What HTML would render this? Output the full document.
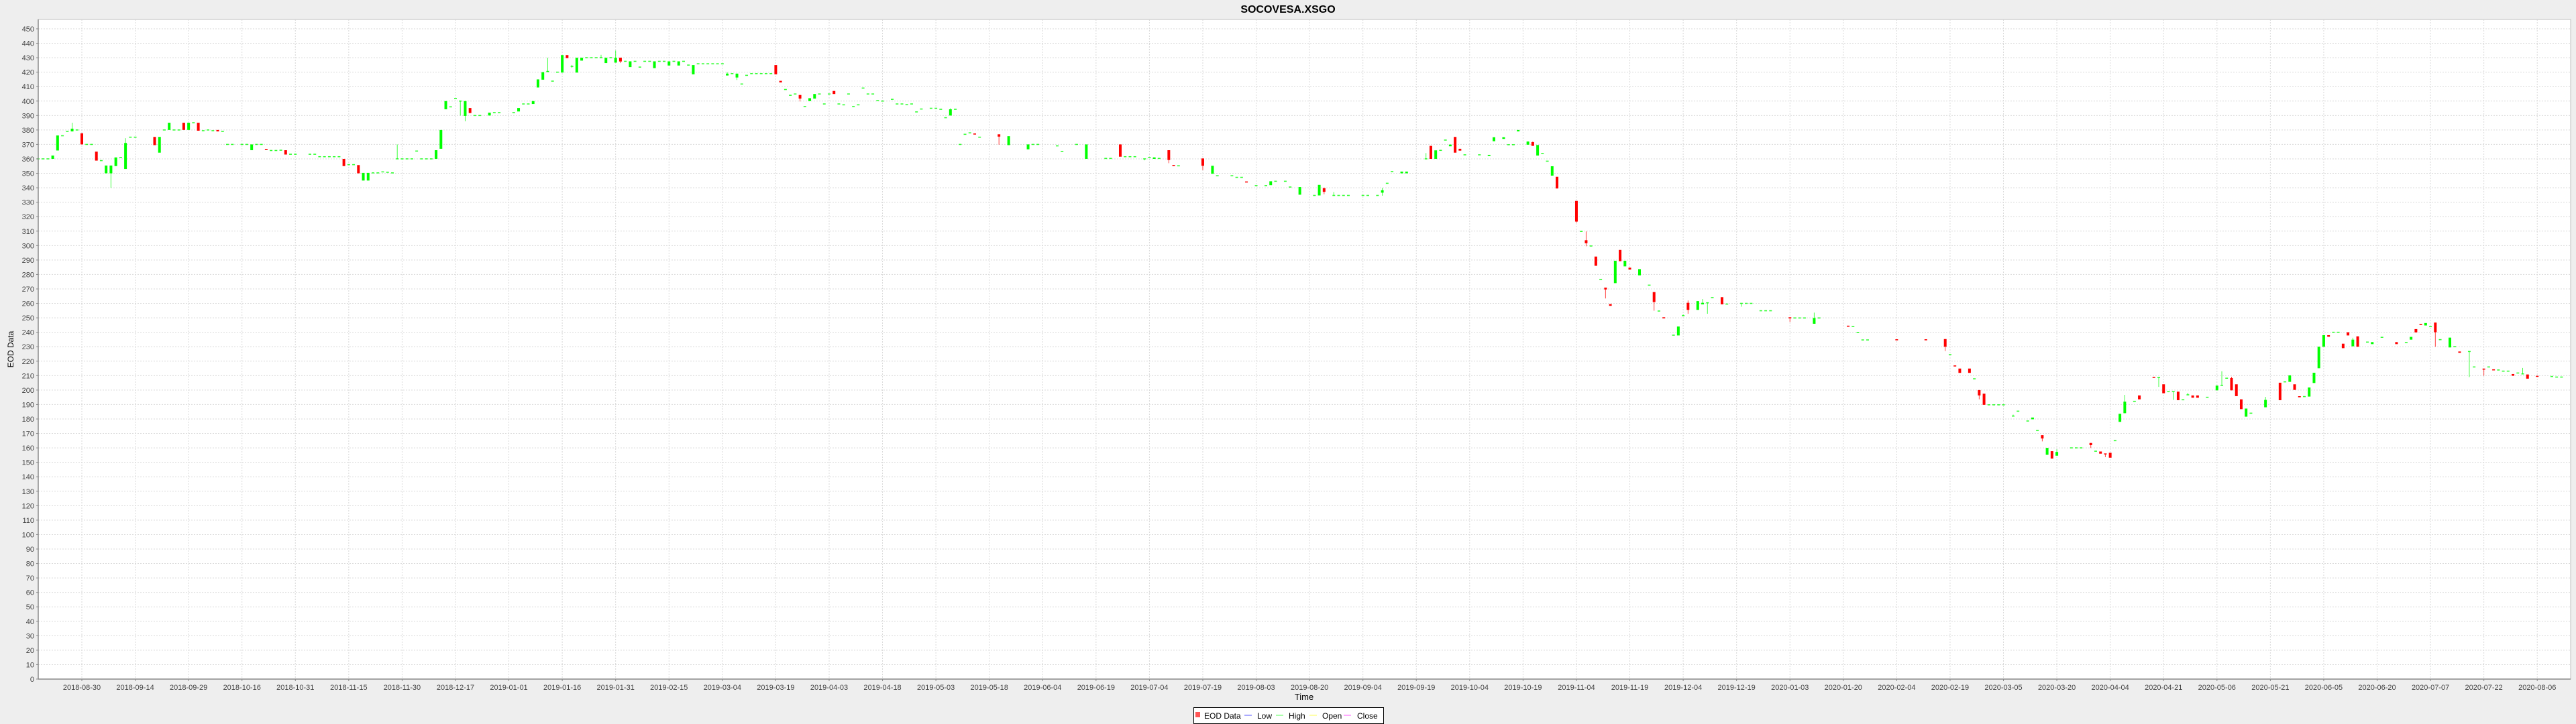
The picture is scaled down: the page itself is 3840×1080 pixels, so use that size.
<!DOCTYPE html>
<html><head><meta charset="utf-8"><title>SOCOVESA.XSGO</title>
<style>html,body{margin:0;padding:0;background:#eeeeee;}svg{display:block;font-family:"Liberation Sans",Arial,sans-serif;}</style>
</head><body>
<svg id="chart" width="3840" height="1080" viewBox="0 0 3840 1080" xmlns="http://www.w3.org/2000/svg">
<rect x="0" y="0" width="3840" height="1080" fill="#eeeeee"/>
<text x="1920" y="19" text-anchor="middle" font-size="16" font-weight="bold" fill="#000">SOCOVESA.XSGO</text>
<rect x="57" y="29" width="3775" height="984" fill="#ffffff" stroke="#c0c0c0" stroke-width="1"/>
<g id="grid"></g>
<g id="candles"></g>
<line x1="57" y1="29" x2="57" y2="1013" stroke="#888" stroke-width="1.5"/>
<line x1="57" y1="1013" x2="3832" y2="1013" stroke="#888" stroke-width="1.5"/>
<g id="yticks"></g>
<g id="xticks"></g>
<text x="1944" y="1044" text-anchor="middle" font-size="13" fill="#000">Time</text>
<text x="0" y="0" transform="translate(20,521) rotate(-90)" text-anchor="middle" font-size="12" fill="#000">EOD Data</text>
<g>
<rect x="1779.5" y="1055.5" width="283" height="24" fill="#fff" stroke="#000" stroke-width="1"/>
<g><rect x="1782" y="1062" width="7" height="8" fill="#ff5555"/><text x="1795" y="1072" font-size="12">EOD Data</text></g>
<g><line x1="1855" y1="1067" x2="1866" y2="1067" stroke="#5555ff"/><text x="1874" y="1072" font-size="12">Low</text></g>
<g><line x1="1902" y1="1067" x2="1913" y2="1067" stroke="#55ff55"/><text x="1921" y="1072" font-size="12">High</text></g>
<g><line x1="1952" y1="1067" x2="1963" y2="1067" stroke="#ffff55"/><text x="1971" y="1072" font-size="12">Open</text></g>
<g><line x1="2003" y1="1067" x2="2014" y2="1067" stroke="#ff55ff"/><text x="2023" y="1072" font-size="12">Close</text></g>
</g>
</svg>
<script>
const xTickLabels = ["2018-08-30","2018-09-14","2018-09-29","2018-10-16","2018-10-31","2018-11-15","2018-11-30","2018-12-17","2019-01-01","2019-01-16","2019-01-31","2019-02-15","2019-03-04","2019-03-19","2019-04-03","2019-04-18","2019-05-03","2019-05-18","2019-06-04","2019-06-19","2019-07-04","2019-07-19","2019-08-03","2019-08-20","2019-09-04","2019-09-19","2019-10-04","2019-10-19","2019-11-04","2019-11-19","2019-12-04","2019-12-19","2020-01-03","2020-01-20","2020-02-04","2020-02-19","2020-03-05","2020-03-20","2020-04-04","2020-04-21","2020-05-06","2020-05-21","2020-06-05","2020-06-20","2020-07-07","2020-07-22","2020-08-06"];
const yTicks = [0,10,20,30,40,50,60,70,80,90,100,110,120,130,140,150,160,170,180,190,200,210,220,230,240,250,260,270,280,290,300,310,320,330,340,350,360,370,380,390,400,410,420,430,440,450];
const days = [-9,-8,-7,-6,-5,-4,-3,-2,-1,0, 1,2,3,4,5,6,7,8,9,10, 11,15,16,17,18,19,20,21,22,23, 24,25,26,27,28,29,30,31,33,34, 35,36,37,38,39,40,41,42,43,44, 47,48,49,50,51,52,53,54,55,56, 57,58,59,60,61,62,63,64,65,66, 67,68,69,70,71,72,73,74,75,76, 77,78,79,80,81,82,84,85,86,89, 90,91,92,93,94,95,96,97,98,99,
100,101,102,103,104,105,106,107,108,109, 110,111,112,113,114,115,116,117,118,119, 120,121,122,123,124,125,126,127,128,129, 130,131,132,133,134,135,136,137,138,139, 140,141,142,143,144,145,146,147,148,149, 150,151,152,153,154,155,156,157,158,159, 160,161,162,163,164,165,167,168,169,170, 171,172,173,175,176,177,178,179,180,181, 182,183,184,185,189,191,195,196,197,201, 202,205,207,211,212,214,215,216,217,219,
220,221,222,224,225,226,231,233,234,237, 238,239,240,242,244,245,246,248,249,251, 254,255,256,258,259,260,261,264,265,267, 268,269,270,272,273,277,278,279,280,281, 282,283,284,285,288,290,291,293,294,295, 296,298,299,300,301,302,303,304,308,309, 310,311,312,313,314,315,316,317,318,319, 321,323,324,325,326,328,329,330,331,333, 334,335,336,338,339,342,343,344,346,347, 348,352,353,354,355,357,358,364,365,366,
367,368,374,380,384,385,386,387,389,390, 391,392,393,394,395,396,398,399,401,402, 403,404,405,406,407,410,411,412,414,415, 416,417,418,419,420,421,423,424,427,428, 429,430,431,432,433,434,435,436,438,440, 441,442,443,444,445,446,447,450,453,454, 455,456,457,458,459,460,461,462,463,464, 465,466,467,468,469,471,472,474,477,479, 480,481,482,483,484,485,486,488,489,490, 492,493,495,496,497,498,499,500,501,502, 503,504,506,509,510,511];
const opens = [360,360,360,360,365.8,376,379,379,380,377.7, 370,370,365,358.8,350,350,355,361,353,375, 375,375.2,364.3,380,380,380,380,385,380,385, 385,379.5,380,379.5,380,379,370,370,370,370, 366,370,370,366.5,365.8,365.8,366,366,363.2,363.2, 363.2,363.2,361.5,361.5,361.5,361.5,361.5,360,356,356, 355.7,345,345,350.3,350.3,351,350.7,350.3,360,360, 360,360,365.4,360,360,360,360,367,394.3,396, 401.8,400,389.7,395.2,390,390,390,392,392,392, 392.8,398,398,398,409.4,414.8,420,413.8,420,419.7,
431.8,424,419.7,428,430,430,430,430,426.3,430, 426.6,430,427.5,423.5,427.5,423.5,427.5,427.5,422.8,427.5, 427.5,424.6,427.5,424.6,427.5,424.9,418.5,425.8,425.8,425.8, 425.8,425.8,425.8,417.7,419,416.3,411.8,417.8,419,419, 419,419,419,424.9,414,408,404,404.9,404.2,396.2, 400,401.7,404.9,398,404.9,407,398,397.4,404.9,396.2, 397.4,409,404.9,404.9,400.3,400,401.2,398,398,397.5, 398,392.5,394.5,395,395,394.3,388.5,390,394.3,370, 377,378,377.2,375,377,369.5,366.6,370,370,369, 365.2,370,360,360.3,360.3,370,361.5,361.5,361.5,360,
361,360,360.3,366,355.4,355.2,360.3,349.7,348.3,348.3, 347.2,347.2,344,341.5,341.5,341.8,344.5,344.5,340.5,335.2, 334.7,334.7,339.8,334.7,334.7,334.7,334.7,334.7,334.7,334.7, 336.6,343.1,351.2,350,350,360,369,360,365.9,373, 368.7,375.2,367,362.8,362.8,362,372.2,373.8,369.8,369.8, 379,369.8,371.6,362.3,363.7,358.4,348.4,347.6,330.9,309.8, 303.7,299.7,292.4,276.6,270.9,259.5,274,297,285.6,284.7, 279.4,272.6,267.8,254.7,250,238,237.8,251.5,260.4,255.5, 259.3,260.4,264,264.3,259.5,260,260,260,254.9,254.9, 254.9,250,249.9,249.9,249.9,245.9,249.9,244.2,244,239.8,
234.7,234.7,234.8,234.8,235.3,224.5,216.7,214.9,214.9,207.8, 200,197.5,189.8,189.8,189.8,189.8,182,185.4,178.6,179.8, 172,168.8,155.2,157.7,154.6,160,160,160,163.4,157.7, 157.5,155.8,156.6,165,178,184,192.2,196.3,208.8,208.7, 204,198.9,198.9,198.9,193.3,196.7,196.3,196.3,195,199.8, 203.3,208.2,208.3,204,193.6,181.6,184,188.1,205.1,205.7, 205.7,204,195.4,195.5,195.5,204.9,215.1,230,238,240, 240,232.1,240,230.3,237.2,233.2,231.8,236.5,233.2,232.9, 234.9,242.2,245.4,244.7,243.9,246.7,234.9,229.5,230,226.7, 226.7,216,214.5,216,214,213.9,213.1,213.1,211.1,211.8, 211.2,210.8,209.5,209.4,209,209];
const closes = [360,360,360,362.3,376.2,376,379,380.9,380,370, 370,370,358.8,358.8,355.4,355.4,361,361,371,375, 375,369.5,375.2,380,385,380,380,380,385,385, 379.5,379.5,380,379.5,379,379,370,370,370,370, 370,370,370,366.2,365.8,365.8,366,363,363.2,363.2, 363.2,363.2,361.5,361.5,361.5,361.5,361.5,355,356,356, 350,350.3,350.3,350.3,350.3,351,350.7,350.3,360,360, 360,360,365.4,360,360,360,366,380,400,396, 401.8,400,400,391.7,390,390,392,392,392,392, 395.2,398,398,400,415,420,420.5,413.8,420,431.8,
429.7,424,430,430,430,430,430,430,430,430, 430,427.4,427.5,427.5,427.5,423.5,427.5,427.5,427.5,427.5, 427.5,427.5,427.5,427.5,427.5,424.9,424.9,425.8,425.8,425.8, 425.8,425.8,425.8,419,419,419,411.8,417.8,419,419, 419,419,419,418.5,412.9,408,404,404.9,401.7,396.2, 402,404.9,404.9,398,404.9,404.9,398,397.4,404.9,396.2, 397.4,409,404.9,404.9,400.3,400,401.2,398,398,397.5, 398,392.5,394.5,395,395,394.3,388.5,394.3,394.3,370, 377,378,377,375,375.4,375.7,370,370,370,369, 365.2,370,370,360.3,360.3,361.5,361.5,361.5,361.5,360,
361,361,360.3,359.2,355.2,355.2,355.2,355.2,348.3,348.3, 347.2,347.2,343.4,341.5,341.5,344.5,344.5,344.5,340.5,340.5, 334.7,342,337.2,334.7,334.7,334.7,334.7,334.7,334.7,334.7, 338.3,343.1,351.2,351.2,351.2,360,360,365.9,365.9,373, 369.9,364.3,365.7,362.8,362.8,362.8,375,375,369.8,369.8, 380,372,369,369.6,363.7,358.4,354.9,339.5,316.6,309.8, 301.6,299.7,286,276.6,269.6,258.3,289.5,289.2,289.5,283.4, 283.7,272.6,260.9,254.7,249.3,238,244,251.5,255.5,261.6, 260.4,260.4,264,259.3,259.5,260,260,260,254.9,254.9, 254.9,249.9,249.9,249.9,249.9,249.9,249.9,244,244,239.8,
234.7,234.7,234.7,234.7,230,224.5,216,211.9,211.9,207.8, 196.3,189.8,189.8,189.8,189.8,189.8,182,185.4,178.6,181, 172,166.5,160,152.6,157.2,160,160,160,161.9,157.7, 156,155.6,153.2,165,183.6,192,192.2,193.6,208.7,208.7, 197.8,198.9,198.9,193,193.3,196.7,194.7,194.7,195,203.1, 203.3,208.2,199.8,195.8,186.8,187.2,184,193.2,193,205.7, 210.2,200.1,195.1,195.5,201.8,212,230,238,236.9,240, 240,229,237.8,234.9,230,233.2,233.2,236.5,231.8,232.9, 236.8,239.9,244.8,246.4,243.9,240,234.9,236.3,230,225.8, 226.7,216,213.9,216,213.9,213.9,213.1,213.1,209.9,211.8, 211.2,207.9,209.4,209.4,209,209];
const highDays = [-2,9,65,96,101,107,110,133,179,258,268,277,299,310,330,331,334,357,398,407,421,434,441,443,450,468,503];
const highVals = [385,374.3,370,430,425,432,435,420,395,337,340,364,372,309.8,252.3,262,263,253.6,183,159,196.7,198.1,213,209.2,195.3,236.2,215.3];
const lowDays = [6,78,79,101,111,135,148,189,219,224,231,256,268,308,310,314,324,331,335,342,352,384,391,404,414,417,428,431,485,492,495];
const lowVals = [340,390,386,423,426.3,414.6,399.7,369.8,359,357,352.2,335.5,334.5,315.8,299.5,263.4,254.9,252.8,252.8,257.7,247.1,227,193.6,164.5,159.9,153.6,202.2,193.2,230,209,209.9];

const NS = "http://www.w3.org/2000/svg";
const PL = 57, PR = 3832, PT = 29, PB = 1013;
const X0 = 122, DX = 79.57 / 11, YS = 2.1556, TICK_EVERY = 11;
function xScale(d) { return X0 + d * DX; }
function yScale(v) { return PB - v * YS; }
function mk(tag, attrs, parent) {
  const el = document.createElementNS(NS, tag);
  for (const k in attrs) el.setAttribute(k, attrs[k]);
  parent.appendChild(el);
  return el;
}
const grid = document.getElementById('grid');
const yt = document.getElementById('yticks');
const xt = document.getElementById('xticks');
const cg = document.getElementById('candles');

yTicks.forEach(function (v) {
  const y = yScale(v);
  const g = mk('line', {x1: PL, x2: PR, y1: y, y2: y, stroke: '#d9d9d9', 'stroke-width': 1, 'stroke-dasharray': '2,2'}, grid);
  
  
  const tk = mk('line', {x1: PL - 3, x2: PL, y1: y, y2: y, stroke: '#888'}, yt);
  
  
  const t = mk('text', {x: PL - 6, y: y + 4, 'text-anchor': 'end', 'font-size': 11, fill: '#444'}, yt);
  t.textContent = String(v);
  
  
});

xTickLabels.forEach(function (lab, k) {
  const x = xScale(k * TICK_EVERY);
  const g = mk('line', {x1: x, x2: x, y1: PT, y2: PB, stroke: '#d9d9d9', 'stroke-width': 1, 'stroke-dasharray': '2,2'}, grid);
  
  
  const tk = mk('line', {x1: x, x2: x, y1: PB, y2: PB + 3, stroke: '#888'}, xt);
  
  
  const t = mk('text', {x: x, y: PB + 16, 'text-anchor': 'middle', 'font-size': 11, fill: '#444'}, xt);
  t.textContent = lab;
  
  
});

days.forEach(function (d, i) {
  const o = opens[i], c = closes[i];
  const hi = highDays.indexOf(d) >= 0 ? highVals[highDays.indexOf(d)] : Math.max(o, c);
  const lo = lowDays.indexOf(d) >= 0 ? lowVals[lowDays.indexOf(d)] : Math.min(o, c);
  const col = c < o ? '#ff0000' : '#00ff00';
  const x = xScale(d);
  if (hi > Math.max(o, c) || lo < Math.min(o, c)) {
    const w = mk('line', {x1: x, x2: x, y1: yScale(hi), y2: yScale(lo), stroke: col, 'stroke-width': 1, 'stroke-opacity': 0.75}, cg);
    
    
  }
  const top = yScale(Math.max(o, c)), bot = yScale(Math.min(o, c));
  const h = Math.max(bot - top, 1.6);
  const r = mk('rect', {x: x - 2, y: top - (h > bot - top ? 0.8 : 0), width: 4, height: h, fill: col, 'fill-opacity': (o === c ? 0.8 : 1)}, cg);
  
  
});
</script>
</body></html>
